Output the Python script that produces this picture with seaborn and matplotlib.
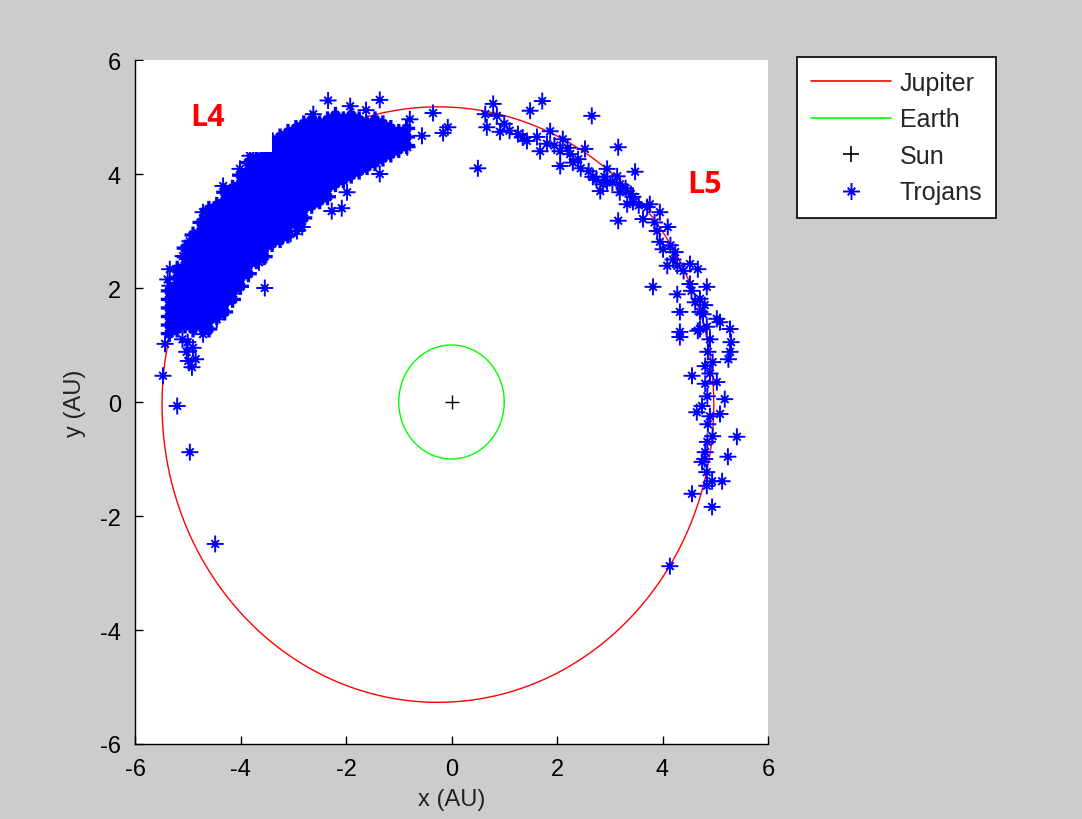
import numpy as np
import pandas as pd
import matplotlib
matplotlib.use("Agg")
import matplotlib.pyplot as plt
import seaborn as sns
from matplotlib.path import Path
from matplotlib.markers import MarkerStyle
from matplotlib.lines import Line2D
from matplotlib.patches import Rectangle

# ---------------- data ----------------
# Jupiter orbit elements (AU), Earth orbit radius (AU)
jupiter_a = 5.23
jupiter_e = 0.05
jupiter_peri_deg = 10.0
earth_r = 1.0
sun_x, sun_y = [0.0], [0.0]

# L4 saturated swarm: columns of positions
l4_core_cols_x = [-5.35, -5.20, -5.05, -4.90, -4.75, -4.60, -4.45, -4.30, -4.15, -4.00,
                  -3.85, -3.70, -3.55, -3.40, -3.25, -3.10, -2.95, -2.80, -2.65, -2.50,
                  -2.35, -2.20, -2.05, -1.90, -1.75, -1.60, -1.45, -1.30, -1.15, -1.00, -0.85]
l4_core_cols_y = [
    [1.20, 1.35, 1.50, 1.65, 1.80, 1.95],
    [1.28, 1.43, 1.58, 1.73, 1.88, 2.03, 2.18, 2.33],
    [1.35, 1.50, 1.65, 1.80, 1.95, 2.10, 2.25, 2.40, 2.55, 2.70],
    [1.28, 1.43, 1.58, 1.73, 1.88, 2.03, 2.18, 2.33, 2.48, 2.63, 2.78, 2.93],
    [1.35, 1.50, 1.65, 1.80, 1.95, 2.10, 2.25, 2.40, 2.55, 2.70, 2.85, 3.00, 3.15],
    [1.28, 1.43, 1.58, 1.73, 1.88, 2.03, 2.18, 2.33, 2.48, 2.63, 2.78, 2.93, 3.08, 3.23, 3.38],
    [1.50, 1.65, 1.80, 1.95, 2.10, 2.25, 2.40, 2.55, 2.70, 2.85, 3.00, 3.15, 3.30, 3.45],
    [1.58, 1.73, 1.88, 2.03, 2.18, 2.33, 2.48, 2.63, 2.78, 2.93, 3.08, 3.23, 3.38, 3.53, 3.68],
    [1.80, 1.95, 2.10, 2.25, 2.40, 2.55, 2.70, 2.85, 3.00, 3.15, 3.30, 3.45, 3.60, 3.75],
    [2.03, 2.18, 2.33, 2.48, 2.63, 2.78, 2.93, 3.08, 3.23, 3.38, 3.53, 3.68, 3.83, 3.98],
    [2.25, 2.40, 2.55, 2.70, 2.85, 3.00, 3.15, 3.30, 3.45, 3.60, 3.75, 3.90, 4.05, 4.20],
    [2.48, 2.63, 2.78, 2.93, 3.08, 3.23, 3.38, 3.53, 3.68, 3.83, 3.98, 4.13, 4.28],
    [2.55, 2.70, 2.85, 3.00, 3.15, 3.30, 3.45, 3.60, 3.75, 3.90, 4.05, 4.20, 4.35, 4.50],
    [2.78, 2.93, 3.08, 3.23, 3.38, 3.53, 3.68, 3.83, 3.98, 4.13, 4.28, 4.43, 4.58],
    [2.85, 3.00, 3.15, 3.30, 3.45, 3.60, 3.75, 3.90, 4.05, 4.20, 4.35, 4.50, 4.65],
    [2.93, 3.08, 3.23, 3.38, 3.53, 3.68, 3.83, 3.98, 4.13, 4.28, 4.43, 4.58, 4.73],
    [3.15, 3.30, 3.45, 3.60, 3.75, 3.90, 4.05, 4.20, 4.35, 4.50, 4.65, 4.80],
    [3.23, 3.38, 3.53, 3.68, 3.83, 3.98, 4.13, 4.28, 4.43, 4.58, 4.73, 4.88],
    [3.45, 3.60, 3.75, 3.90, 4.05, 4.20, 4.35, 4.50, 4.65, 4.80, 4.95],
    [3.53, 3.68, 3.83, 3.98, 4.13, 4.28, 4.43, 4.58, 4.73, 4.88],
    [3.60, 3.75, 3.90, 4.05, 4.20, 4.35, 4.50, 4.65, 4.80, 4.95],
    [3.83, 3.98, 4.13, 4.28, 4.43, 4.58, 4.73, 4.88, 5.03],
    [3.90, 4.05, 4.20, 4.35, 4.50, 4.65, 4.80, 4.95],
    [3.98, 4.13, 4.28, 4.43, 4.58, 4.73, 4.88, 5.03],
    [4.05, 4.20, 4.35, 4.50, 4.65, 4.80, 4.95],
    [4.13, 4.28, 4.43, 4.58, 4.73, 4.88],
    [4.20, 4.35, 4.50, 4.65, 4.80, 4.95],
    [4.28, 4.43, 4.58, 4.73, 4.88],
    [4.35, 4.50, 4.65, 4.80],
    [4.43, 4.58, 4.73],
    [4.50, 4.65, 4.80],
]

# L4 scattered members (edges and outliers)
l4_outer_points = [
    (-5.43, 1.02), (-5.47, 0.46), (-5.20, -0.07), (-4.96, -0.88), (-4.92, 0.61),
    (-5.02, 0.88), (-4.99, 0.72), (-4.71, 1.19), (-4.54, 1.54), (-4.48, -2.49),
    (-5.34, 2.04), (-4.96, 2.82), (-4.71, 3.33), (-4.10, 2.00), (-3.54, 2.00),
    (-3.82, 2.54), (-3.48, 2.77), (-2.93, 3.00), (-2.83, 3.07), (-2.55, 3.56),
    (-2.49, 3.56), (-2.27, 3.35), (-2.08, 3.40), (-1.98, 3.68), (-1.68, 4.14),
    (-1.36, 4.00), (-0.84, 4.47), (-0.79, 4.96), (-0.56, 4.67), (-0.16, 4.72),
    (-0.07, 4.82), (-0.35, 5.07), (-1.36, 5.30), (-2.34, 5.29), (-1.92, 5.19),
    (0.50, 4.10), (-3.82, 4.32), (-5.00, 1.05), (-4.90, 0.95), (-5.10, 1.10),
    (-4.85, 0.75), (-5.30, 1.51), (-3.20, 2.90), (-2.62, 5.05), (-1.62, 5.12),
    (-4.33, 3.79), (-4.01, 4.09), (-5.09, 2.56), (-5.34, 2.33), (-4.45, 1.45),
    (-4.14, 1.90), (-3.65, 2.45), (-3.05, 2.95), (-5.38, 2.15),
]

# L5 members
l5_points = [
    (0.64, 5.05), (0.79, 5.23), (0.67, 4.82), (0.86, 5.02), (0.92, 4.74), (1.00, 4.88),
    (1.10, 4.76), (1.26, 4.70), (1.35, 4.64), (1.43, 4.58), (1.49, 5.11), (1.72, 5.28),
    (1.62, 4.65), (1.68, 4.40), (1.87, 4.75), (1.81, 4.53), (1.95, 4.50), (2.06, 4.40),
    (2.11, 4.61), (2.20, 4.46), (2.25, 4.35), (2.06, 4.14), (2.30, 4.20), (2.45, 4.10),
    (2.53, 4.44), (2.40, 4.26), (2.60, 4.05), (2.66, 5.02), (2.68, 3.95), (2.75, 3.90),
    (2.87, 3.82), (2.90, 3.95), (2.95, 4.09), (3.05, 3.85), (3.14, 3.96), (2.82, 3.70),
    (3.19, 3.82), (3.16, 4.47), (3.30, 3.75), (3.40, 3.65), (3.44, 3.60), (3.33, 3.47),
    (3.48, 4.04), (2.95, 3.86), (3.19, 3.68), (3.44, 3.51), (3.55, 3.45), (3.71, 3.42),
    (3.76, 3.47), (3.16, 3.18), (3.63, 3.21), (3.85, 3.15), (3.95, 3.33), (3.90, 3.00),
    (4.10, 3.07), (3.95, 2.81), (4.01, 2.68), (4.15, 2.75), (4.24, 2.63), (4.20, 2.50),
    (4.09, 2.39), (4.28, 2.39), (4.40, 2.30), (4.52, 2.42), (4.67, 2.33), (3.82, 2.02),
    (4.28, 1.89), (4.52, 2.07), (4.55, 1.95), (4.84, 2.02), (4.71, 1.81), (4.62, 1.75),
    (4.80, 1.70), (4.33, 1.58), (4.71, 1.58), (4.77, 1.54), (5.03, 1.46), (5.09, 1.40),
    (5.28, 1.28), (5.30, 1.05), (4.71, 1.28), (4.84, 1.32), (4.67, 1.25), (4.33, 1.23),
    (4.33, 1.14), (4.90, 1.10), (5.28, 0.88), (5.25, 0.75), (4.86, 0.88), (4.95, 0.70),
    (4.81, 0.63), (4.90, 0.50), (4.56, 0.46), (5.03, 0.35), (4.81, 0.32), (4.85, 0.10),
    (5.18, 0.05), (4.75, -0.07), (4.65, -0.18), (5.09, -0.21), (4.90, -0.25), (4.86, -0.39),
    (4.95, -0.60), (5.41, -0.61), (4.85, -0.70), (4.81, -0.88), (4.80, -1.00), (4.75, -1.05),
    (5.24, -0.96), (4.84, -1.23), (5.13, -1.39), (4.94, -1.39), (4.84, -1.47), (4.56, -1.61),
    (4.94, -1.84), (4.14, -2.88),
]

legend_labels = ["Jupiter", "Earth", "Sun", "Trojans"]
axis_ticks = [-6, -4, -2, 0, 2, 4, 6]

# ---------------- build frames ----------------
cx_list, cy_list = [], []
for cx, ys in zip(l4_core_cols_x, l4_core_cols_y):
    for yv in ys:
        cx_list.append(cx)
        cy_list.append(yv)
core = pd.DataFrame({"x": cx_list, "y": cy_list})
outer_pts = l4_outer_points + l5_points
outer = pd.DataFrame({"x": [p[0] for p in outer_pts], "y": [p[1] for p in outer_pts]})

# Jupiter ellipse (Sun at focus), seam at the bottom
theta = np.deg2rad(np.linspace(-93, 267, 721))
r = jupiter_a * (1 - jupiter_e ** 2) / (1 + jupiter_e * np.cos(theta - np.deg2rad(jupiter_peri_deg)))
jup = pd.DataFrame({"x": r * np.cos(theta), "y": r * np.sin(theta)})
phi = np.linspace(0, 2 * np.pi, 361)
earth = pd.DataFrame({"x": earth_r * np.cos(phi), "y": earth_r * np.sin(phi)})

# ---------------- style ----------------
sns.set_style("white")
plt.rcParams["font.family"] = ["Liberation Sans", "DejaVu Sans"]
plt.rcParams["axes.unicode_minus"] = False

W, H = 1082, 820
fig = plt.figure(figsize=(W / 100, H / 100), dpi=100, facecolor="#cccccc")
ax = fig.add_axes([135 / W, 1 - 745 / H, (768 - 135) / W, (745 - 61) / H])
ax.set_facecolor("white")

# MATLAB-like asterisk marker: long + arms, short diagonal arms
d = 0.45
star_path = Path(
    [(-1, 0), (1, 0), (0, -1), (0, 1), (-d, -d), (d, d), (-d, d), (d, -d)],
    [Path.MOVETO, Path.LINETO] * 4,
)
star = MarkerStyle(star_path, fillstyle="none")
star_size_pt = 12.2
blue = (0, 0, 1)

sns.lineplot(data=jup, x="x", y="y", sort=False, estimator=None, color=(1, 0, 0),
             lw=1.0, ax=ax, zorder=2)
sns.lineplot(data=earth, x="x", y="y", sort=False, estimator=None, color=(0, 1, 0),
             lw=1.0, ax=ax, zorder=2)
# saturated core (thousands of overlapping markers in the original)
sns.scatterplot(data=core, x="x", y="y", marker=star, s=star_size_pt ** 2,
                color=blue, edgecolor=blue, linewidth=2.4, ax=ax,
                zorder=3, legend=False)
sns.scatterplot(data=outer, x="x", y="y", marker=star, s=star_size_pt ** 2,
                color=blue, edgecolor=blue, linewidth=1.4, ax=ax,
                zorder=3, legend=False)
ax.plot(sun_x, sun_y, marker="+", color="black", ms=10, mew=1.0, ls="none", zorder=5)

# white box behind the L4 label (as in the original screenshot)
ax.add_patch(Rectangle((-5.97, 4.385), 2.57, 1.6, facecolor="white",
                       edgecolor="none", zorder=6))
ax.text(-4.63, 5.0, "L4", color="red", fontsize=22, fontweight="bold",
        family=["Open Sans", "DejaVu Sans"], ha="center", va="center", zorder=7)
ax.text(4.80, 3.82, "L5", color="red", fontsize=22, fontweight="bold",
        family=["Open Sans", "DejaVu Sans"], ha="center", va="center", zorder=7)

ax.set_xlim(-6, 6)
ax.set_ylim(-6, 6)
ax.set_xticks(axis_ticks)
ax.set_yticks(axis_ticks)
ax.set_xticklabels([str(t) for t in axis_ticks])
ax.set_yticklabels([str(t) for t in axis_ticks])
ax.tick_params(direction="in", length=6, width=1.0, labelsize=17, colors="black",
               pad=10, top=False, right=False, bottom=True, left=True)
ax.set_xlabel("x (AU)", fontsize=17, labelpad=6, color="#222222")
ax.set_ylabel("y (AU)", fontsize=17, labelpad=10, color="#222222")
for s in ["top", "right"]:
    ax.spines[s].set_visible(False)
for s in ["left", "bottom"]:
    ax.spines[s].set_color("black")
    ax.spines[s].set_linewidth(1.0)

handles = [
    Line2D([], [], color=(1, 0, 0), lw=1.2),
    Line2D([], [], color=(0, 1, 0), lw=1.2),
    Line2D([], [], color="black", marker="+", ms=12, mew=1.2, ls="none"),
    Line2D([], [], color=blue, marker=star, ms=star_size_pt, mew=1.4, ls="none"),
]
leg = fig.legend(handles, legend_labels, loc="upper left",
                 bbox_to_anchor=(797 / W, 1 - 58 / H), bbox_transform=fig.transFigure,
                 frameon=True, fancybox=False, framealpha=1, edgecolor="black",
                 facecolor="white", fontsize=18, handlelength=3.2, handletextpad=0.35,
                 labelspacing=0.5, borderpad=0.55, borderaxespad=0, numpoints=1)
leg.get_frame().set_linewidth(1.2)

fig.savefig("out.png", dpi=100, facecolor=fig.get_facecolor())
